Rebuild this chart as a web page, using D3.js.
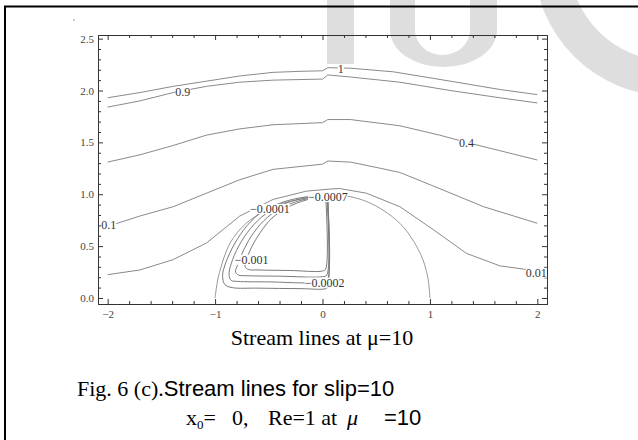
<!DOCTYPE html>
<html>
<head>
<meta charset="utf-8">
<script src="https://d3js.org/d3.v7.min.js"></script>
<style>
  body { margin: 0; background: #fff; }
  svg { display: block; }
  .tick text { font-family: "Liberation Serif", "Times New Roman", serif; font-size: 11px; fill: #444; }
</style>
</head>
<body>
<div id="chart"></div>
<script>
// stream function levels, each line as [x, y] points
var psi1 = [[-2.0,1.93],[-1.7,1.98],[-1.39,2.04],[-1.08,2.09],[-0.77,2.14],[-0.46,2.175],[-0.2,2.185],[0.0,2.19],
            [0.05,2.22],[0.26,2.215],[0.66,2.18],[1.19,2.09],[1.65,2.01],[2.0,1.96]];
var psi09 = [[-2.0,1.84],[-1.7,1.90],[-1.39,1.98],[-1.08,2.04],[-0.77,2.08],[-0.46,2.10],[0.0,2.11],
             [0.05,2.15],[0.26,2.13],[0.72,2.08],[1.19,2.0],[1.65,1.93],[2.0,1.88]];
var psi04 = [[-2.0,1.31],[-1.7,1.38],[-1.39,1.47],[-1.08,1.57],[-0.77,1.63],[-0.46,1.67],[0.0,1.69],
             [0.05,1.72],[0.26,1.72],[0.72,1.66],[1.09,1.57],[1.34,1.50],[1.65,1.42],[2.0,1.33]];
var psi01 = [[-2.0,0.69],[-1.7,0.79],[-1.39,0.88],[-1.08,1.01],[-0.77,1.14],[-0.46,1.24],[0.0,1.29],
             [0.05,1.32],[0.26,1.31],[0.54,1.25],[0.72,1.21],[1.03,1.08],[1.5,0.88],[2.0,0.72]];
var psi001 = [[-2.0,0.225],[-1.7,0.27],[-1.39,0.37],[-1.08,0.53],[-0.77,0.79],[-0.46,0.95],[-0.15,1.03],
              [0.07,1.05],[0.16,1.055],[0.41,1.01],[0.72,0.88],[1.03,0.66],[1.34,0.43],[1.65,0.31],[2.0,0.26]];
var psi0 = [[-1.0,0.0],[-0.98,0.15],[-0.95,0.28],[-0.86,0.53],[-0.71,0.72],[-0.46,0.88],[-0.15,0.965],
            [0.1,0.995],[0.41,0.93],[0.72,0.72],[0.91,0.43],[0.98,0.2],[1.0,0.0]];

// closed eddy behind the body
var eddy1 = [[0.05,0.99],[-0.15,0.975],[-0.35,0.93],[-0.55,0.84],[-0.70,0.70],[-0.82,0.52],[-0.90,0.34],[-0.93,0.22],
             [-0.91,0.13],[-0.84,0.10],[-0.6,0.095],[-0.2,0.09],[0.03,0.09],[0.05,0.11],[0.05,0.99]];
var eddy2 = [[0.045,0.985],[-0.15,0.965],[-0.35,0.91],[-0.53,0.81],[-0.67,0.67],[-0.78,0.50],[-0.85,0.33],[-0.87,0.22],
             [-0.85,0.17],[-0.79,0.16],[-0.5,0.155],[0.0,0.15],[0.045,0.17],[0.045,0.985]];
var eddy3 = [[0.04,0.98],[-0.15,0.955],[-0.35,0.885],[-0.51,0.78],[-0.64,0.63],[-0.73,0.47],[-0.79,0.32],[-0.81,0.25],
             [-0.78,0.22],[-0.72,0.215],[-0.4,0.21],[0.0,0.205],[0.04,0.22],[0.04,0.98]];
var eddy4 = [[0.03,0.975],[-0.15,0.945],[-0.33,0.87],[-0.47,0.77],[-0.58,0.63],[-0.66,0.49],[-0.71,0.36],[-0.72,0.30],
             [-0.69,0.275],[-0.6,0.27],[-0.3,0.265],[0.0,0.26],[0.03,0.28],[0.03,0.975]];

// contour labels and where they sit (data units)
var labelText = ["1", "0.9", "0.4", "0.1", "0.01", "\u22120.0001", "\u22120.0007", "\u22120.001", "\u22120.0002"];
var labelX = [0.17, -1.30, 1.34, -1.99, 1.99, -0.49, 0.05, -0.66, 0.02];
var labelY = [2.21, 1.99, 1.50, 0.71, 0.245, 0.86, 0.975, 0.37, 0.15];

var xTicks = [-2, -1, 0, 1, 2];
var yTicks = [0, 0.5, 1.0, 1.5, 2.0, 2.5];

var w = 638, h = 440;
var plotL = 98, plotR = 547, plotT = 35, plotB = 304;

var svg = d3.select("#chart").append("svg")
    .attr("width", w)
    .attr("height", h);

// faint watermark letters behind everything
var wm = svg.append("g").attr("fill", "#dedede");
wm.append("rect").attr("x", 327).attr("y", 0).attr("width", 27).attr("height", 64);
wm.append("path")
    .attr("fill-rule", "evenodd")
    .attr("d", "M390,0 L390,30 A53.5,37 0 0 0 497,30 L497,0 Z M415,0 L415,30 A27.5,25 0 0 0 470,30 L470,0 Z");
wm.append("path")
    .attr("fill-rule", "evenodd")
    .attr("d", "M534,-40 a136,136 0 1,0 272,0 a136,136 0 1,0 -272,0 Z M569,-40 a101,101 0 1,0 202,0 a101,101 0 1,0 -202,0 Z");

// page frame
svg.append("path")
    .attr("d", "M5,440 L5,6.5 L638,6.5")
    .attr("fill", "none")
    .attr("stroke", "#000")
    .attr("stroke-width", 2);
svg.append("circle").attr("cx", 74).attr("cy", 20).attr("r", 0.7).attr("fill", "#777");

var x = d3.scaleLinear().domain([-2.09, 2.09]).range([plotL, plotR]);
var y = d3.scaleLinear().domain([-0.058, 2.535]).range([plotB, plotT]);

var xMinor = d3.range(-2, 2.01, 0.2).filter(function(d) { return Math.abs(d - Math.round(d)) > 0.01; });
var yMinor = d3.range(0, 2.51, 0.1).filter(function(d) { return Math.abs(d * 2 - Math.round(d * 2)) > 0.01; });

function frameAxis(axis, tr) {
    var g = svg.append("g").attr("transform", tr).call(axis);
    g.select(".domain").attr("stroke", "#333");
    g.selectAll(".tick line").attr("stroke", "#333");
    return g;
}

// major + minor ticks on all four sides, pointing inward
frameAxis(d3.axisBottom(x).tickValues(xTicks).tickSizeInner(-5).tickSizeOuter(0).tickPadding(6)
    .tickFormat(d3.format("d")), "translate(0," + plotB + ")");
frameAxis(d3.axisBottom(x).tickValues(xMinor).tickSizeInner(-3).tickSizeOuter(0).tickFormat(""), "translate(0," + plotB + ")");
frameAxis(d3.axisTop(x).tickValues(xTicks).tickSizeInner(-5).tickSizeOuter(0).tickFormat(""), "translate(0," + plotT + ")");
frameAxis(d3.axisTop(x).tickValues(xMinor).tickSizeInner(-3).tickSizeOuter(0).tickFormat(""), "translate(0," + plotT + ")");
frameAxis(d3.axisLeft(y).tickValues(yTicks).tickSizeInner(-5).tickSizeOuter(0).tickPadding(4)
    .tickFormat(d3.format(".1f")), "translate(" + plotL + ",0)");
frameAxis(d3.axisLeft(y).tickValues(yMinor).tickSizeInner(-3).tickSizeOuter(0).tickFormat(""), "translate(" + plotL + ",0)");
frameAxis(d3.axisRight(y).tickValues(yTicks).tickSizeInner(-5).tickSizeOuter(0).tickFormat(""), "translate(" + plotR + ",0)");
frameAxis(d3.axisRight(y).tickValues(yMinor).tickSizeInner(-3).tickSizeOuter(0).tickFormat(""), "translate(" + plotR + ",0)");

// stream lines
var line = d3.line()
    .x(function(d) { return x(d[0]); })
    .y(function(d) { return y(d[1]); });
var smooth = d3.line()
    .x(function(d) { return x(d[0]); })
    .y(function(d) { return y(d[1]); })
    .curve(d3.curveCatmullRom.alpha(0.5));

svg.selectAll("path.stream")
    .data([psi1, psi09, psi04, psi01, psi001])
    .enter()
    .append("path")
    .attr("class", "stream")
    .attr("d", line)
    .attr("fill", "none")
    .attr("stroke", "#8a8a8a")
    .attr("stroke-width", 1);

svg.selectAll("path.eddy")
    .data([psi0, eddy1, eddy2, eddy3, eddy4])
    .enter()
    .append("path")
    .attr("class", "eddy")
    .attr("d", smooth)
    .attr("fill", "none")
    .attr("stroke", function(d, i) { return i == 0 ? "#999" : "#7a7a7a"; })
    .attr("stroke-width", 1);

// contour labels on white patches
var labels = svg.selectAll("g.clabel")
    .data(labelText)
    .enter()
    .append("g")
    .attr("class", "clabel")
    .attr("transform", function(d, i) { return "translate(" + x(labelX[i]) + "," + y(labelY[i]) + ")"; });
labels.append("text")
    .text(function(d) { return d; })
    .attr("text-anchor", "middle")
    .attr("dy", "0.35em")
    .attr("font-family", "Liberation Serif, Times New Roman, serif")
    .attr("font-size", "12px")
    .attr("fill", "#333");
labels.insert("rect", "text")
    .each(function() {
        var b = this.parentNode.querySelector("text").getBBox();
        d3.select(this).attr("x", b.x).attr("y", b.y + 2).attr("width", b.width).attr("height", b.height - 4);
    })
    .attr("fill", "#fff");

// captions
svg.append("text")
    .attr("x", 322).attr("y", 345)
    .attr("text-anchor", "middle")
    .attr("font-family", "Liberation Serif, Times New Roman, serif")
    .attr("font-size", "22px")
    .text("Stream lines at \u03bc=10");

var fig = svg.append("text").attr("x", 77).attr("y", 396).attr("font-size", "22px");
fig.append("tspan").attr("font-family", "Liberation Serif, serif").text("Fig. 6 (c).");
fig.append("tspan").attr("font-family", "Liberation Sans, Arial, sans-serif").text("Stream lines for slip=10");

var serif = "Liberation Serif, serif";
var sub = svg.append("g").attr("font-size", "22px");
var xt = sub.append("text").attr("x", 186).attr("y", 425).attr("font-family", serif);
xt.append("tspan").text("x");
xt.append("tspan").attr("font-size", "13px").attr("dy", 4).text("0");
xt.append("tspan").attr("dy", -4).text("=");
sub.append("text").attr("x", 232).attr("y", 425).attr("font-family", serif).text("0,");
sub.append("text").attr("x", 268).attr("y", 425).attr("font-family", serif).text("Re=1 at");
sub.append("text").attr("x", 347).attr("y", 425).attr("font-family", serif).attr("font-style", "italic").text("\u03bc");
sub.append("text").attr("x", 384).attr("y", 425).attr("font-family", "Liberation Sans, Arial, sans-serif").text("=10");
</script>
</body>
</html>
